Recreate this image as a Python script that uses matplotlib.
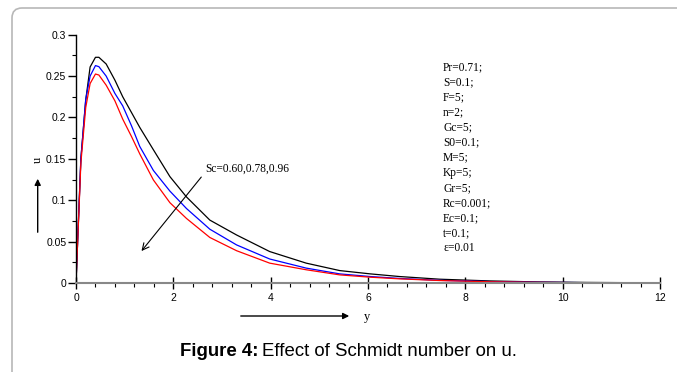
import matplotlib
matplotlib.use("Agg")
import matplotlib.pyplot as plt
from matplotlib.patches import FancyBboxPatch, FancyArrowPatch
from matplotlib.ticker import MultipleLocator, FuncFormatter

# velocity profiles u(y) for three Schmidt numbers
y_pts = [0, 0.1, 0.2, 0.29, 0.4, 0.47, 0.62, 0.8, 0.96, 1.14, 1.31, 1.59,
         1.93, 2.27, 2.75, 3.3, 3.98, 4.73, 5.42, 6.05, 6.65, 7.47, 8.5, 9.5,
         10.5, 12]
u_sc060 = [0, 0.15, 0.221, 0.261, 0.2727, 0.2727, 0.2646, 0.245, 0.225,
           0.206, 0.188, 0.161, 0.1285, 0.104, 0.076, 0.058, 0.038, 0.024,
           0.015, 0.011, 0.0078, 0.0046, 0.0025, 0.0013, 0.0007, 0.0002]
u_sc078 = [0, 0.15, 0.222, 0.250, 0.2627, 0.2614, 0.250, 0.229, 0.214,
           0.190, 0.165, 0.136, 0.111, 0.090, 0.065, 0.046, 0.029, 0.018,
           0.011, 0.0078, 0.0055, 0.0032, 0.0017, 0.0009, 0.0004, 0.0001]
u_sc096 = [0, 0.145, 0.212, 0.241, 0.2525, 0.2513, 0.239, 0.220, 0.198,
           0.177, 0.156, 0.1245, 0.097, 0.078, 0.055, 0.039, 0.024, 0.016,
           0.0098, 0.007, 0.005, 0.003, 0.0015, 0.0008, 0.0003, 0.0001]

params = ["Pr=0.71;", "S=0.1;", "F=5;", "n=2;", "Gc=5;", "S0=0.1;", "M=5;",
          "Kp=5;", "Gr=5;", "Rc=0.001;", "Ec=0.1;", "t=0.1;", "\u03b5=0.01"]

W, H = 677, 372
fig = plt.figure(figsize=(W / 100, H / 100), dpi=100)

# rounded grey frame running off the right and bottom edges (inches)
frame = FancyBboxPatch((0.12, -0.5), 8.0, (H - 8) / 100 + 0.5,
                       boxstyle="round,pad=0,rounding_size=0.1",
                       transform=fig.dpi_scale_trans, fill=False,
                       edgecolor="#b8b8b8", linewidth=1.2)
fig.patches.append(frame)

ax = fig.add_axes([76 / W, 1 - 283 / H, (660 - 76) / W, (283 - 34.7) / H])
ax.plot(y_pts, u_sc060, color="black", lw=0.9)
ax.plot(y_pts, u_sc078, color="#0000ff", lw=0.9)
ax.plot(y_pts, u_sc096, color="#ff0000", lw=0.9)

ax.set_xlim(0, 12)
ax.set_ylim(0, 0.3)
ax.spines["top"].set_visible(False)
ax.spines["right"].set_visible(False)
ax.spines["bottom"].set_color("#888888")
ax.spines["bottom"].set_linewidth(1.5)
ax.spines["left"].set_linewidth(1.0)
ax.xaxis.set_major_locator(MultipleLocator(2))
ax.xaxis.set_minor_locator(MultipleLocator(0.4))
ax.yaxis.set_major_locator(MultipleLocator(0.05))
ax.yaxis.set_minor_locator(MultipleLocator(0.025))
ax.yaxis.set_major_formatter(FuncFormatter(lambda v, p: f"{v:g}"))
ax.tick_params(axis="x", which="major", direction="inout", length=8, width=1,
               labelsize=7.5, pad=3)
ax.tick_params(axis="x", which="minor", direction="out", length=3, width=0.8)
ax.tick_params(axis="y", which="major", direction="out", length=6, width=1,
               labelsize=7.5, pad=1)
ax.tick_params(axis="y", which="minor", direction="out", length=3, width=0.8)
for lab in ax.get_xticklabels() + ax.get_yticklabels():
    lab.set_family("Liberation Sans")

serif = "Liberation Serif"
ax.annotate("", xy=(1.31, 0.036), xytext=(2.61, 0.1306),
            arrowprops=dict(arrowstyle="->", color="black", lw=0.8,
                            mutation_scale=12))
ax.text(2.65, 0.1385, "Sc=0.60,0.78,0.96", family=serif, fontsize=8.3,
        va="center", ha="left")

for i, s in enumerate(params):
    fig.text(443 / W, 1 - (67 + 15.1 * i) / H, s, family=serif, fontsize=8.3,
             va="center", ha="left")

# axis labels with arrows, as in the original
fig.text(38 / W, 1 - 160 / H, "u", family=serif, fontsize=9, rotation=90,
         va="center", ha="center")
fig.patches.append(FancyArrowPatch(
    (37.7 / W, 1 - 235 / H), (37.7 / W, 1 - 176 / H),
    transform=fig.transFigure, arrowstyle="-|>", mutation_scale=9,
    color="black", lw=1.0))
fig.text(367 / W, 1 - 317 / H, "y", family=serif, fontsize=9,
         va="center", ha="center")
fig.patches.append(FancyArrowPatch(
    (238 / W, 1 - 316 / H), (352 / W, 1 - 316 / H),
    transform=fig.transFigure, arrowstyle="-|>", mutation_scale=9,
    color="black", lw=1.0))

cap = fig.text(180 / W, 1 - 351 / H, "Figure 4:", family="Liberation Sans",
               fontsize=13.4, fontweight="bold", va="center", ha="left")
fig.canvas.draw()
bb = cap.get_window_extent()
fig.text((bb.x1 + 4) / W, 1 - 351 / H, "Effect of Schmidt number on u.",
         family="Liberation Sans", fontsize=13.4, va="center", ha="left")

fig.savefig("out.png", dpi=100)
